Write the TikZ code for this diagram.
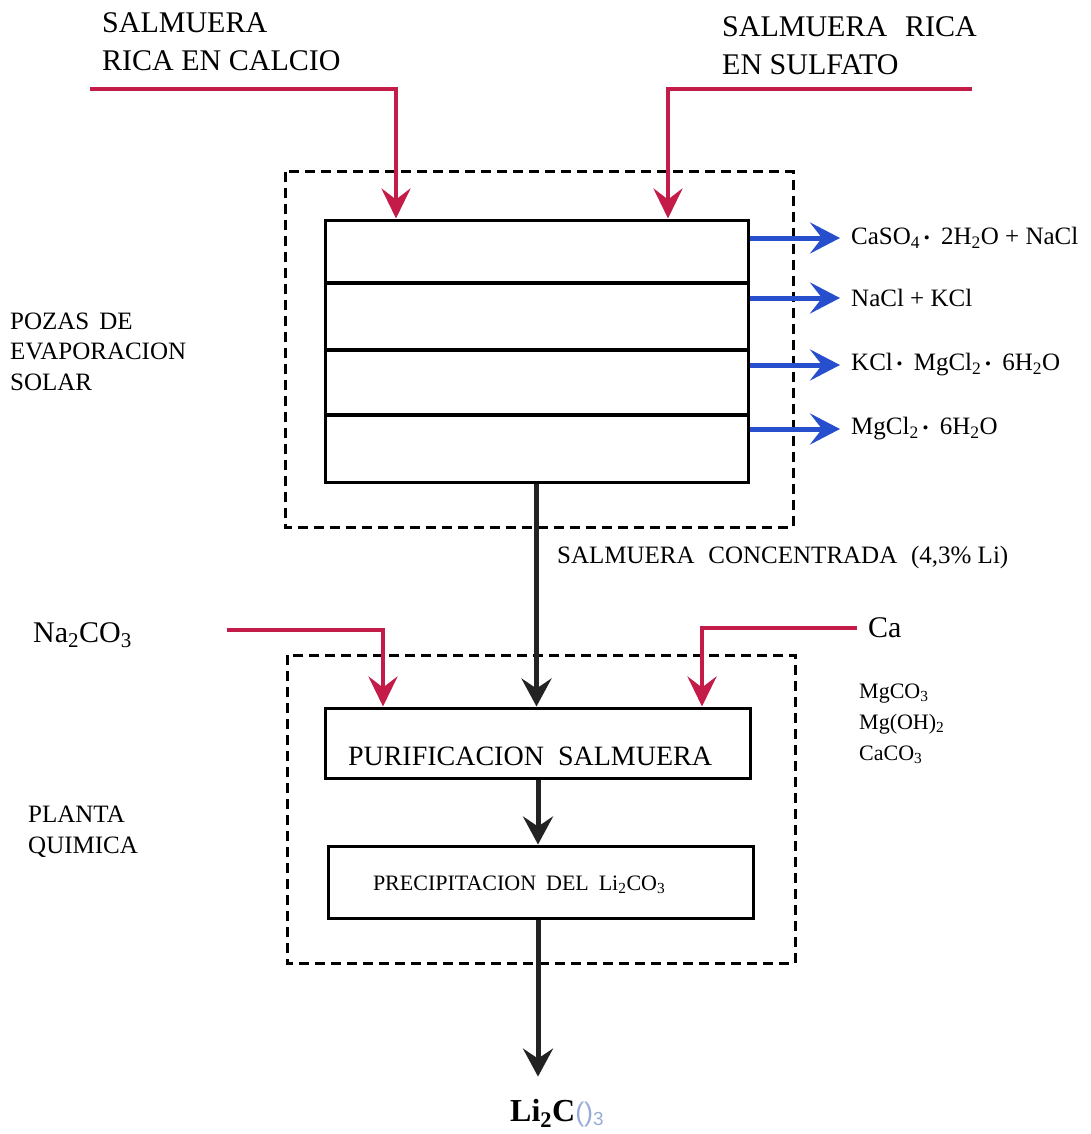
\documentclass[tikz,border=0pt]{standalone}
\usepackage{fontspec}
\setmainfont{Liberation Serif}
\newfontfamily\penfont{Liberation Sans}
\usetikzlibrary{arrows.meta,calc}

\definecolor{feedred}{RGB}{196,28,72}
\definecolor{saltblue}{RGB}{38,78,205}
\definecolor{flowgray}{RGB}{35,35,35}
\definecolor{penblue}{RGB}{150,172,215}

\newcommand\fsz[2]{\fontsize{#1}{#2}\selectfont}
\newcommand\hyd{\hspace{0.15em}\raisebox{1.5pt}{\fsz{17}{17}•}\hspace{0.45em}}

\begin{document}
\begin{tikzpicture}[x=1pt,y=-1pt,
  feed/.style={draw=feedred, line width=4.5pt,
    -{Stealth[length=30pt,width=29pt,inset=11pt]}},
  salt/.style={draw=saltblue, line width=5pt,
    -{Stealth[length=30pt,width=31pt,inset=12pt]}},
  mainflow/.style={draw=flowgray, line width=5pt,
    -{Stealth[length=28pt,width=30pt,inset=10pt]}},
  zonebox/.style={draw=black, line width=3pt, dash pattern=on 10pt off 6pt},
  unitbox/.style={draw=black, line width=3pt, inner ysep=0pt},
  divider/.style={draw=black, line width=4pt},
  biglbl/.style={inner sep=0pt, align=left, font=\fsz{30}{38}},
  zonelbl/.style={inner sep=0pt, align=left, font=\fsz{25}{30.5}},
  prodlbl/.style={inner xsep=11pt, inner ysep=0pt, font=\fsz{25}{29}},
]
\useasboundingbox (0,0) rectangle (1091,1134);

% process zones
\draw[zonebox] (285,172) rectangle (793,527);
\draw[zonebox] (287,655) rectangle (795,963);

% evaporation ponds
\node[unitbox, inner xsep=0pt, minimum width=423pt, minimum height=262pt] (ponds) at (536.5,351) {};
\draw[divider] ($(ponds.north west)+(0,64)$) -- ($(ponds.north east)+(0,64)$);
\draw[divider] ($(ponds.north west)+(0,131)$) -- ($(ponds.north east)+(0,131)$);
\draw[divider] ($(ponds.north west)+(0,196)$) -- ($(ponds.north east)+(0,196)$);

% chemical plant units
\node[unitbox, inner xsep=23pt, text width=379pt, align=left, minimum height=70pt,
  text height=44pt, text depth=0pt, font=\fsz{28}{30}] (purif) at (537.5,743)
  {PURIFICACION\hspace{0.5em}SALMUERA};
\node[unitbox, inner xsep=45pt, text width=335pt, align=left, minimum height=72pt,
  text height=18pt, text depth=2pt, font=\fsz{22}{26}] (precip) at (540.5,882)
  {PRECIPITACION\hspace{0.45em}DEL\hspace{0.45em}Li\textsubscript{2}CO\textsubscript{3}};

% labels (multi-line labels are placed by the baseline of their last line)
\node[biglbl, anchor=base west] (calcio) at (102,71) {SALMUERA\\RICA EN CALCIO};
\node[biglbl, anchor=base west] (sulfato) at (722,75) {SALMUERA\hspace{0.6em}RICA\\EN SULFATO};
\node[zonelbl, anchor=base west] (pozas) at (10,390) {POZAS\hspace{0.4em}DE\\EVAPORACION\\SOLAR};
\node[zonelbl, anchor=base west] (planta) at (28,853) {PLANTA\\QUIMICA};
\node[anchor=base west, inner sep=0pt, font=\fsz{25}{30}] (conc) at (557,563)
  {SALMUERA\hspace{0.55em}CONCENTRADA\hspace{0.55em}(4,3\% Li)};
\node[anchor=base west, inner sep=0pt, font=\fsz{30}{36}] (na) at (33,642) {Na\textsubscript{2}CO\textsubscript{3}};
\node[anchor=west, inner xsep=11pt, inner ysep=0pt, font=\fsz{30}{36}] (ca) at (857,628) {Ca};
\node[anchor=base west, inner sep=0pt, align=left, font=\fsz{22}{31}] (waste) at (859,760)
  {MgCO\textsubscript{3}\\Mg(OH)\textsubscript{2}\\CaCO\textsubscript{3}};
\node[anchor=base west, inner sep=0pt, font=\fsz{32}{36}] (li) at (510,1121)
  {\bfseries Li\textsubscript{2}C{\color{penblue}\penfont\mdseries\fsz{27}{30}()\textsubscript{3}}};

% salts harvested from the ponds
\node[prodlbl, anchor=west] (p1) at (840,238) {CaSO\textsubscript{4}\hyd 2H\textsubscript{2}O + NaCl};
\node[prodlbl, anchor=west] (p2) at (840,298) {NaCl + KCl};
\node[prodlbl, anchor=west] (p3) at (840,365) {KCl\hyd MgCl\textsubscript{2}\hyd 6H\textsubscript{2}O};
\node[prodlbl, anchor=west] (p4) at (840,429) {MgCl\textsubscript{2}\hyd 6H\textsubscript{2}O};
\foreach \p in {p1,p2,p3,p4}
  \draw[salt] (ponds.east |- \p.west) -- (\p.west);

% brine feeds
\coordinate (calIn) at (90,89);
\coordinate (sulIn) at (972,89);
\draw[feed] (calIn) -| ($(ponds.north)+(-140.5,0)$);
\draw[feed] (sulIn) -| ($(ponds.north)+(131.5,0)$);

% reagent feeds
\coordinate (naIn) at (227,630);
\draw[feed] (naIn) -| ($(purif.north)+(-154.5,0)$);
\draw[feed] (ca.west) -| ($(purif.north)+(164.5,0)$);

% main brine line
\coordinate (purifOut) at ($(purif.south)+(0.5,0)$);
\coordinate (precipOut) at ($(precip.south)+(-2.5,0)$);
\draw[mainflow] (ponds.south) -- (ponds.south |- purif.north);
\draw[mainflow] (purifOut) -- (purifOut |- precip.north);
\draw[mainflow, shorten >=22pt] (precipOut) -- (precipOut |- li.north);
\end{tikzpicture}
\end{document}
